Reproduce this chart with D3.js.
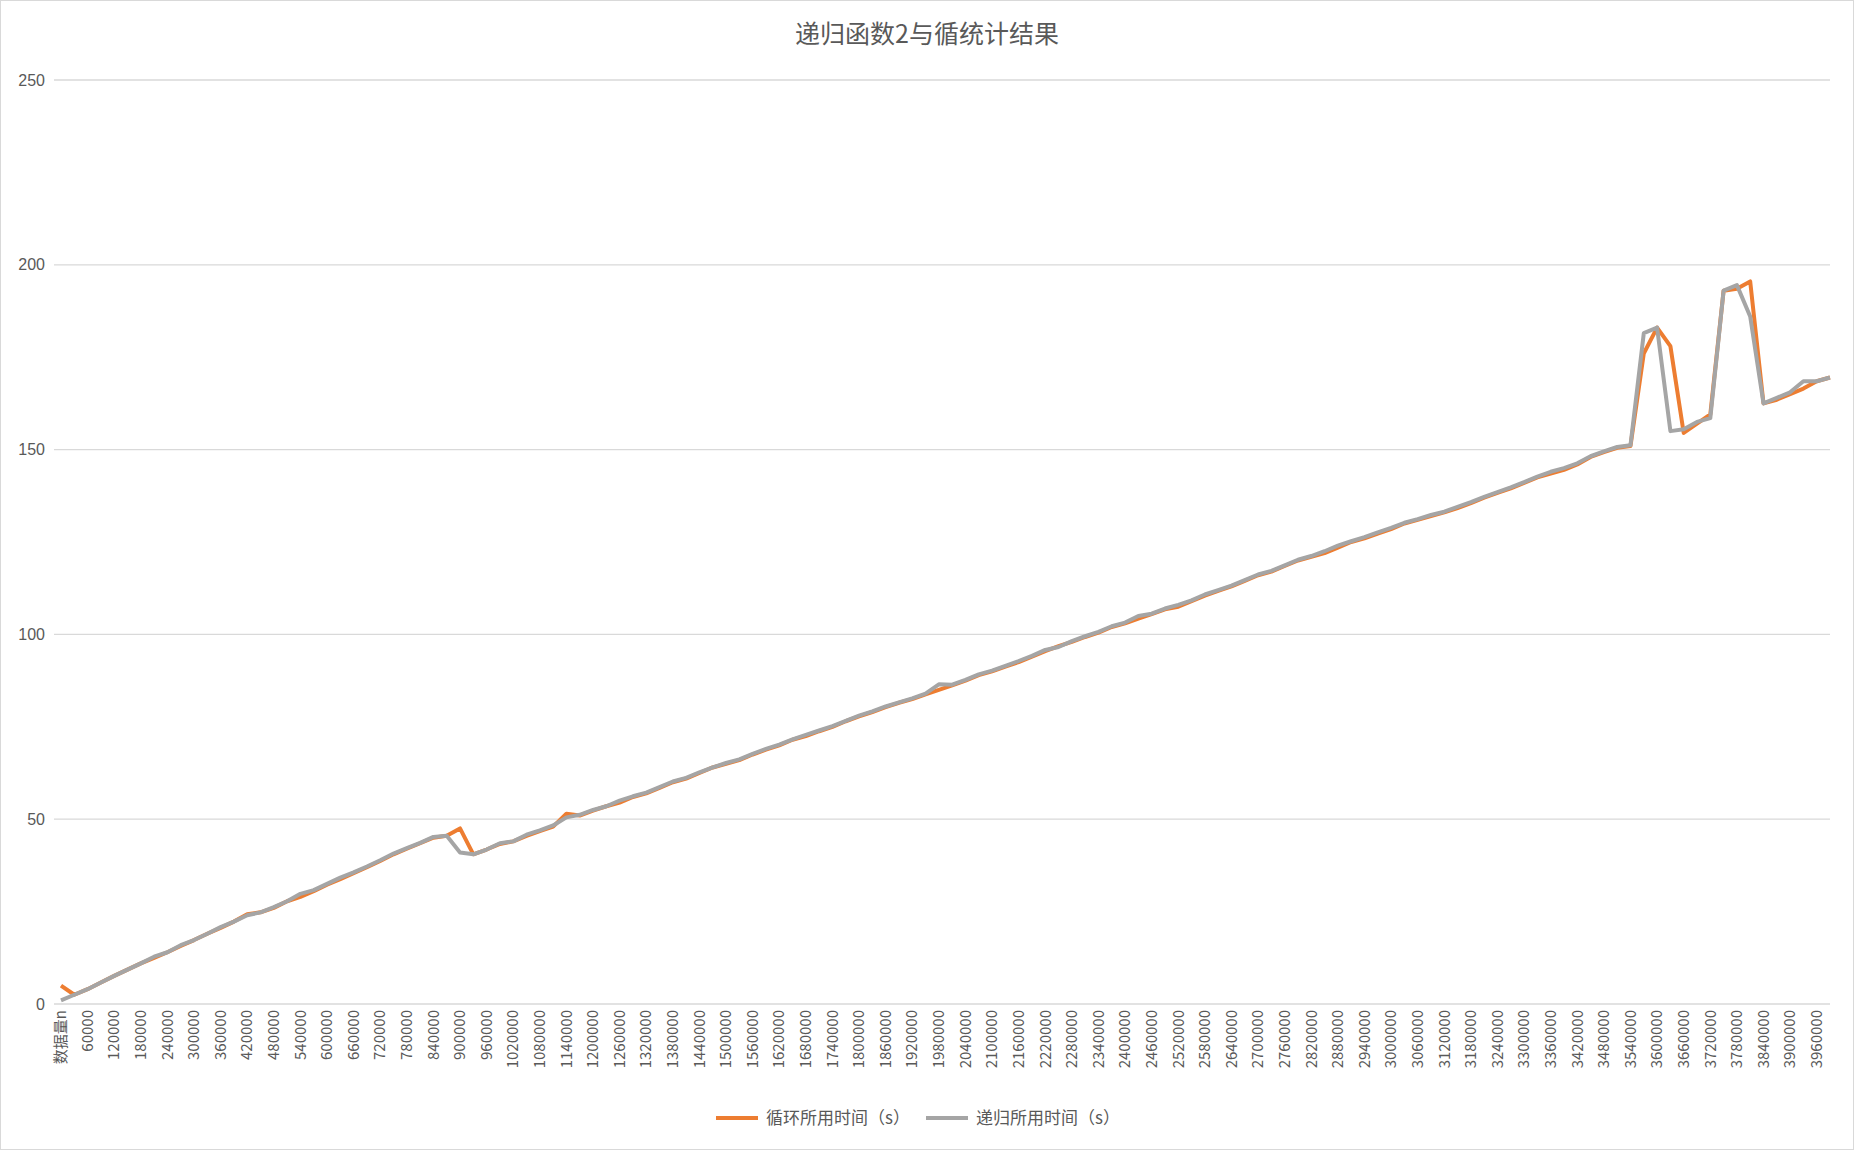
<!DOCTYPE html>
<html><head><meta charset="utf-8">
<script src="https://cdn.jsdelivr.net/npm/d3@7"></script>
<style>body{margin:0;background:#fff;font-family:"Noto Sans CJK SC","Noto Sans",sans-serif}</style>
</head><body><svg id="chart" width="1854" height="1150"></svg>
<script>
// categories: header cell then n = 30000 .. 3990000
const categories = ['数据量n'].concat(d3.range(1, 134).map(k => String(k * 30000)))

const loopTimes = [5, 2.5, 4, 5.8, 7.6, 9.3, 11, 12.5, 14, 15.7,
  17.3, 19, 20.6, 22.3, 24.3, 24.8, 26, 27.8, 29, 30.5,
  32.3, 33.8, 35.4, 37, 38.7, 40.5, 42, 43.5, 45, 45.5,
  47.5, 40.5, 41.8, 43.3, 44, 45.5, 46.8, 48, 51.5, 51,
  52.3, 53.5, 54.5, 56, 57, 58.5, 60, 61, 62.5, 64,
  65, 66, 67.5, 68.8, 70, 71.5, 72.5, 73.8, 75, 76.5,
  77.8, 79, 80.3, 81.5, 82.5, 83.8, 85, 86.2, 87.5, 89,
  90, 91.3, 92.5, 94, 95.5, 96.8, 98, 99.3, 100.5, 102,
  103, 104.3, 105.5, 106.8, 107.5, 109, 110.5, 111.8, 113, 114.5,
  116, 117, 118.5, 120, 121, 122, 123.5, 125, 126, 127.3,
  128.5, 130, 131, 132, 133, 134.2, 135.5, 137, 138.3, 139.5,
  141, 142.5, 143.5, 144.5, 146, 148, 149.3, 150.5, 151, 176,
  183, 178, 154.5, 157, 159.5, 193, 193.5, 195.5, 162.5, 163.5,
  165, 166.5, 168.5, 169.5]

const recursionTimes = [1, 2.5, 4, 5.8, 7.6, 9.3, 11, 12.8, 14, 15.9,
  17.3, 19, 20.8, 22.3, 24, 24.8, 26.2, 27.8, 29.8, 30.8,
  32.5, 34.2, 35.6, 37.2, 38.9, 40.7, 42.2, 43.6, 45.2, 45.5,
  41, 40.5, 41.8, 43.5, 44, 45.8, 47, 48.3, 50.5, 51.2,
  52.5, 53.5, 55, 56.2, 57.2, 58.7, 60.2, 61.2, 62.7, 64,
  65.2, 66.2, 67.7, 69, 70.2, 71.6, 72.8, 74, 75.2, 76.6,
  78, 79.2, 80.5, 81.6, 82.7, 84, 86.5, 86.4, 87.7, 89.2,
  90.2, 91.5, 92.8, 94.2, 95.8, 96.6, 98.2, 99.5, 100.7, 102.2,
  103.2, 105, 105.6, 107, 108, 109.2, 110.8, 112, 113.2, 114.7,
  116.2, 117.2, 118.7, 120.2, 121.2, 122.5, 124, 125.2, 126.3, 127.6,
  128.8, 130.2, 131.2, 132.3, 133.2, 134.5, 135.8, 137.2, 138.5, 139.8,
  141.2, 142.7, 144, 145, 146.3, 148.2, 149.5, 150.7, 151.2, 181.5,
  183, 155, 155.5, 157.5, 158.5, 193, 194.5, 186, 162.5, 164,
  165.5, 168.5, 168.5, 169.5]

const yTicks = [0, 50, 100, 150, 200, 250]
const seriesNames = ['循环所用时间（s）', '递归所用时间（s）']
const seriesColors = ['#ED7D31', '#A5A5A5']

const svg = d3.select('#chart')
const W = 1854, H = 1150

// chart area border
svg.append('rect').attr('x', 0.5).attr('y', 0.5).attr('width', W - 1).attr('height', H - 1)
  .attr('fill', '#fff').attr('stroke', '#d9d9d9')

const x = d3.scalePoint().domain(categories).range([61, 1830])
const y = d3.scaleLinear().domain([0, 250]).range([1004, 80])

svg.append('text').attr('x', W / 2).attr('y', 43).attr('text-anchor', 'middle')
  .attr('font-size', 25).attr('fill', '#595959').text('递归函数2与循统计结果')

// gridlines + y labels
svg.append('g').selectAll('line').data(yTicks).join('line')
  .attr('x1', 54).attr('x2', 1830)
  .attr('y1', d => y(d)).attr('y2', d => y(d))
  .attr('stroke', '#d9d9d9').attr('stroke-width', 1.3)
svg.append('g').selectAll('text').data(yTicks).join('text')
  .attr('x', 45).attr('y', d => y(d)).attr('dy', '0.35em').attr('text-anchor', 'end')
  .attr('font-size', 16).attr('fill', '#595959').attr('font-family', 'Liberation Sans, sans-serif')
  .text(d => d)

// x labels, every other category
svg.append('g').selectAll('text').data(categories.filter((d, i) => i % 2 === 0)).join('text')
  .attr('transform', d => 'translate(' + x(d) + ',1010) rotate(-90)')
  .attr('dy', '0.35em').attr('text-anchor', 'end')
  .attr('font-size', 15).attr('fill', '#595959')
  .attr('font-family', 'Noto Sans CJK SC, Liberation Sans, sans-serif')
  .text(d => d)

const line = d3.line().x((d, i) => x(categories[i])).y(d => y(d))
;[loopTimes, recursionTimes].forEach((s, i) => {
  svg.append('path').datum(s).attr('d', line).attr('fill', 'none')
    .attr('stroke', seriesColors[i]).attr('stroke-width', 4).attr('stroke-linejoin', 'round')
})

// legend
const lg = svg.append('g').attr('transform', 'translate(716,1118)')
seriesNames.forEach((name, i) => {
  const g = lg.append('g').attr('transform', 'translate(' + (i * 210) + ',0)')
  g.append('line').attr('x1', 0).attr('x2', 42).attr('stroke', seriesColors[i]).attr('stroke-width', 4)
  g.append('text').attr('x', 50).attr('dy', '0.35em').attr('font-size', 17).attr('fill', '#595959').text(name)
})
</script></body></html>
